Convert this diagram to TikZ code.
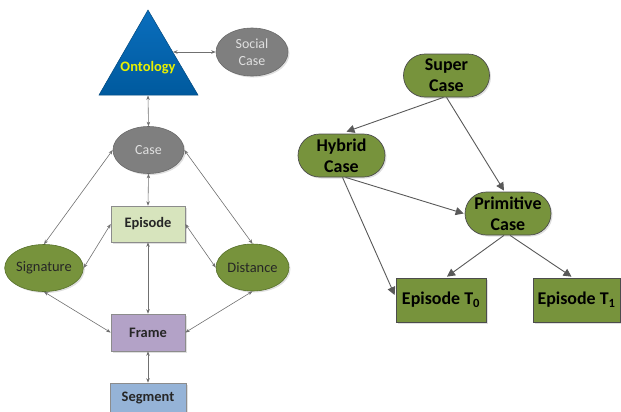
\documentclass[tikz,border=0pt]{standalone}
\usepackage{fontspec}
\setmainfont{Carlito}
\usetikzlibrary{arrows.meta,shapes.geometric,shapes.misc,shadows}
\definecolor{ontoblue}{HTML}{0A6EBD}
\definecolor{ontodark}{HTML}{005A9E}
\definecolor{grayfill}{HTML}{7F7F7F}
\definecolor{grayedge}{HTML}{6A6A6A}
\definecolor{olive}{HTML}{77933C}
\definecolor{oliveedge}{HTML}{56702A}
\definecolor{epgreen}{HTML}{D7E4BD}
\definecolor{framepurple}{HTML}{B3A2C7}
\definecolor{segblue}{HTML}{95B3D7}
\definecolor{boxedge}{HTML}{8C8C8C}
\definecolor{linkgray}{HTML}{707070}
\definecolor{ontoyellow}{HTML}{E8F000}
\tikzset{
  shad/.style={drop shadow={shadow xshift=1.5bp,shadow yshift=-1.5bp,opacity=0.25}},
  grayell/.style={ellipse,shad,fill=grayfill,draw=grayedge,line width=0.6bp,text=white!88!black,
    font=\fontsize{14}{17}\selectfont,align=center,inner sep=0pt},
  oliveell/.style={ellipse,shad,fill=olive,draw=oliveedge,line width=0.6bp,text=black!85,
    font=\fontsize{14.5}{17}\selectfont,inner sep=0pt},
  leftbox/.style={rectangle,shad,draw=boxedge,line width=0.6bp,text=black!85,
    font=\fontsize{14.5}{17}\selectfont\bfseries,inner sep=0pt,minimum width=74bp,minimum height=36bp},
  rrbox/.style={rounded rectangle,shad,fill=olive,draw=black!70,line width=0.7bp,
    font=\fontsize{18}{21}\selectfont\bfseries,align=center,inner sep=0pt,minimum width=86bp,minimum height=43bp},
  epbox/.style={rectangle,shad,fill=olive,draw=black!70,line width=0.7bp,
    font=\fontsize{18}{21}\selectfont\bfseries,inner sep=0pt,minimum width=89bp,minimum height=44bp},
  biarrow/.style={draw=linkgray,line width=0.6bp,{Stealth[length=4.5bp,width=3.5bp]}-{Stealth[length=4.5bp,width=3.5bp]}},
  onearrow/.style={draw=black!65,line width=0.9bp,-{Triangle[length=8bp,width=8bp]}}
}
\begin{document}
\begin{tikzpicture}[x=1bp,y=-1bp]
\useasboundingbox (0,0) rectangle (621,411);
\clip (0,0) rectangle (621,411);
% Ontology triangle
\shade[top color=ontoblue,bottom color=ontodark,draw=ontodark!80!black,line width=0.5bp]
  (148,10) -- (198,95) -- (99,95) -- cycle;
\node[font=\fontsize{14.5}{17}\selectfont\bfseries,text=ontoyellow] (onto) at (148,68) {Ontology};
\coordinate (ontoR) at (173,52);
\coordinate (ontoB) at (148,95.5);
% left nodes
\node[grayell,minimum width=72bp,minimum height=48bp] (social) at (252,52) {Social\\Case};
\node[grayell,minimum width=71bp,minimum height=47bp] (case) at (148.5,150) {Case};
\node[leftbox,fill=epgreen] (episode) at (148,224) {Episode};
\node[oliveell,minimum width=72bp,minimum height=47bp] (signature) at (44,268) {Signature};
\node[oliveell,minimum width=73bp,minimum height=47bp] (distance) at (252.5,267.5) {Distance};
\node[leftbox,fill=framepurple,minimum height=37bp] (frame) at (148,332.5) {Frame};
\node[leftbox,fill=segblue,minimum width=76bp,minimum height=30bp] (segment) at (148,398) {Segment};
% left connectors
\draw[biarrow] (ontoR) -- (social.west);
\draw[biarrow] (ontoB) -- (case.north);
\draw[biarrow] (case.south) -- (episode.north);
\draw[biarrow] (case.west) -- (signature.north);
\draw[biarrow] (case.east) -- (distance.north);
\draw[biarrow] (episode.west) -- (signature.east);
\draw[biarrow] (episode.east) -- (distance.west);
\draw[biarrow] (episode.south) -- (frame.north);
\draw[biarrow] (signature.south) -- (frame.west);
\draw[biarrow] (distance.south) -- (frame.east);
\draw[biarrow] (frame.south) -- (segment.north);
% right nodes
\node[rrbox] (super) at (446.5,75.5) {Super\\Case};
\node[rrbox,minimum width=87bp] (hybrid) at (341.5,155.5) {Hybrid\\Case};
\node[rrbox] (primitive) at (508,213.5) {Primitive\\Case};
\node[epbox,minimum width=90bp] (ep0) at (441,300) {Episode T\textsubscript{0}};
\node[epbox,minimum width=87bp] (ep1) at (576.5,300) {Episode T\textsubscript{1}};
% right connectors
\draw[onearrow] ([xshift=-3bp]super.south) -- ([xshift=5bp,yshift=2bp]hybrid.north);
\draw[onearrow] ([xshift=0bp]super.south) -- ([xshift=-4bp,yshift=1bp]primitive.north);
\draw[onearrow] ([xshift=4bp]hybrid.south) -- ([xshift=-1bp]primitive.west);
\draw[onearrow] ([xshift=1bp]hybrid.south) -- ([xshift=-1bp,yshift=5bp]ep0.west);
\draw[onearrow] ([xshift=-4bp]primitive.south) -- ([xshift=6bp,yshift=1bp]ep0.north);
\draw[onearrow] ([xshift=2bp]primitive.south) -- ([xshift=-5bp,yshift=1bp]ep1.north);
\end{tikzpicture}
\end{document}
